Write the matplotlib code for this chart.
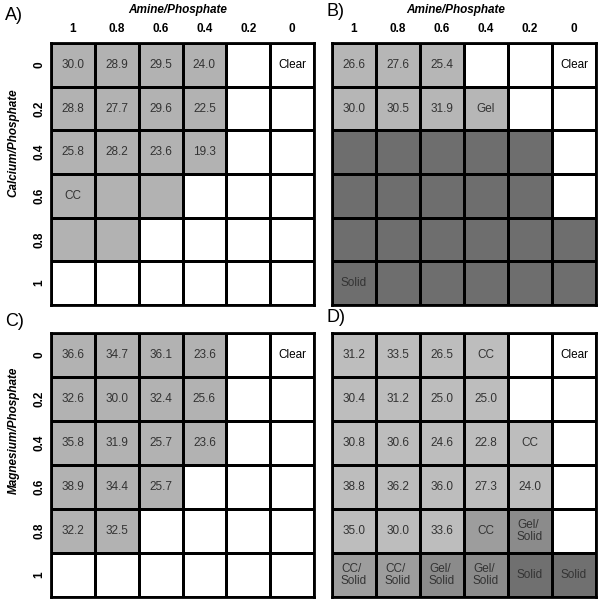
import numpy as np
import matplotlib
matplotlib.use("Agg")
import matplotlib.pyplot as plt
from matplotlib.colors import ListedColormap

plt.rcParams["font.family"] = ["Liberation Sans", "DejaVu Sans"]

amine_ticks = ["1", "0.8", "0.6", "0.4", "0.2", "0"]
ion_ticks = ["0", "0.2", "0.4", "0.6", "0.8", "1"]

# state codes: 0 clear, 1 gel/values, 2 CC, 3 gel/solid, 4 solid
states_a = [
    [1, 1, 1, 1, 0, 0],
    [1, 1, 1, 1, 0, 0],
    [1, 1, 1, 1, 0, 0],
    [1, 1, 1, 0, 0, 0],
    [1, 1, 0, 0, 0, 0],
    [0, 0, 0, 0, 0, 0],
]
labels_a = [
    ["30.0", "28.9", "29.5", "24.0", "", "Clear"],
    ["28.8", "27.7", "29.6", "22.5", "", ""],
    ["25.8", "28.2", "23.6", "19.3", "", ""],
    ["CC", "", "", "", "", ""],
    ["", "", "", "", "", ""],
    ["", "", "", "", "", ""],
]

states_b = [
    [1, 1, 1, 0, 0, 0],
    [1, 1, 1, 1, 0, 0],
    [4, 4, 4, 4, 4, 0],
    [4, 4, 4, 4, 4, 0],
    [4, 4, 4, 4, 4, 4],
    [4, 4, 4, 4, 4, 4],
]
labels_b = [
    ["26.6", "27.6", "25.4", "", "", "Clear"],
    ["30.0", "30.5", "31.9", "Gel", "", ""],
    ["", "", "", "", "", ""],
    ["", "", "", "", "", ""],
    ["", "", "", "", "", ""],
    ["Solid", "", "", "", "", ""],
]

states_c = [
    [1, 1, 1, 1, 0, 0],
    [1, 1, 1, 1, 0, 0],
    [1, 1, 1, 1, 0, 0],
    [1, 1, 1, 0, 0, 0],
    [1, 1, 0, 0, 0, 0],
    [0, 0, 0, 0, 0, 0],
]
labels_c = [
    ["36.6", "34.7", "36.1", "23.6", "", "Clear"],
    ["32.6", "30.0", "32.4", "25.6", "", ""],
    ["35.8", "31.9", "25.7", "23.6", "", ""],
    ["38.9", "34.4", "25.7", "", "", ""],
    ["32.2", "32.5", "", "", "", ""],
    ["", "", "", "", "", ""],
]

states_d = [
    [1, 1, 1, 1, 0, 0],
    [1, 1, 1, 1, 0, 0],
    [1, 1, 1, 1, 1, 0],
    [1, 1, 1, 1, 1, 0],
    [1, 1, 1, 2, 3, 0],
    [2, 2, 3, 3, 4, 4],
]
labels_d = [
    ["31.2", "33.5", "26.5", "CC", "", "Clear"],
    ["30.4", "31.2", "25.0", "25.0", "", ""],
    ["30.8", "30.6", "24.6", "22.8", "CC", ""],
    ["38.8", "36.2", "36.0", "27.3", "24.0", ""],
    ["35.0", "30.0", "33.6", "CC", "Gel/\nSolid", ""],
    ["CC/\nSolid", "CC/\nSolid", "Gel/\nSolid", "Gel/\nSolid", "Solid", "Solid"],
]

W, H = 600, 602


def px_axes(fig, left, top, right, bottom):
    return fig.add_axes([left / W, 1 - bottom / H, (right - left) / W, (bottom - top) / H])


def draw_panel(ax, states, labels, colors, xlabel=None, ylabel=None,
               xlabel_x=0.5, ylabel_y=0.5):
    cmap = ListedColormap(colors)
    data = np.array(states)
    ax.pcolormesh(np.arange(7), np.arange(7), data, cmap=cmap, vmin=-0.5,
                  vmax=len(colors) - 0.5, edgecolors="black", linewidth=0.8)
    ax.set_xlim(0, 6)
    ax.set_ylim(6, 0)
    for r in range(6):
        for c in range(6):
            txt = labels[r][c]
            if not txt:
                continue
            color = "black" if txt == "Clear" else "#333333"
            ax.text(c + 0.5, r + 0.5, txt, ha="center", va="center",
                    fontsize=8.5, color=color, multialignment="left",
                    linespacing=1.0)
    for s in ax.spines.values():
        s.set_linewidth(2)
    ax.tick_params(length=0)
    if xlabel:
        ax.xaxis.tick_top()
        ax.set_xticks(np.arange(6) + 0.5)
        ax.set_xticklabels(amine_ticks, fontsize=8.5, fontweight="bold")
        ax.tick_params(axis="x", pad=6)
        ax.xaxis.set_label_position("top")
        ax.set_xlabel(xlabel, fontsize=8.5, fontweight="bold", style="italic",
                      labelpad=7, x=xlabel_x)
    else:
        ax.set_xticks([])
    if ylabel:
        ax.set_yticks(np.arange(6) + 0.5)
        ax.set_yticklabels(ion_ticks, fontsize=8.5, fontweight="bold",
                           rotation=90, va="center")
        ax.tick_params(axis="y", pad=4)
        ax.set_ylabel(ylabel, fontsize=8.5, fontweight="bold", style="italic",
                      labelpad=10, y=ylabel_y)
    else:
        ax.set_yticks([])


fig = plt.figure(figsize=(6, 6.02), dpi=100)

gray_ac = ["#ffffff", "#b2b2b2"]
gray_b = ["#ffffff", "#b6b6b6", "#9c9c9c", "#8c8c8c", "#6e6e6e"]
gray_d = ["#ffffff", "#bdbdbd", "#9d9d9d", "#8b8b8b", "#707070"]

ax_a = px_axes(fig, 51, 43, 314, 305)
draw_panel(ax_a, states_a, labels_a, gray_ac, "Amine/Phosphate", "Calcium/Phosphate",
           xlabel_x=0.48, ylabel_y=0.62)
ax_b = px_axes(fig, 332, 43, 596, 305)
draw_panel(ax_b, states_b, labels_b, gray_b, "Amine/Phosphate", xlabel_x=0.47)
ax_c = px_axes(fig, 51, 333, 314, 597)
draw_panel(ax_c, states_c, labels_c, gray_ac, None, "Magnesium/Phosphate",
           ylabel_y=0.63)
ax_d = px_axes(fig, 332, 333, 596, 597)
draw_panel(ax_d, states_d, labels_d, gray_d)

fig.text(5 / W, 1 - 15 / H, "A)", fontsize=13, va="center", ha="left")
fig.text(327 / W, 1 - 12 / H, "B)", fontsize=13, va="center", ha="left")
fig.text(5 / W, 1 - 322 / H, "C)", fontsize=13, va="center", ha="left")
fig.text(327 / W, 1 - 318 / H, "D)", fontsize=13, va="center", ha="left")

fig.savefig("out.png", dpi=100)
